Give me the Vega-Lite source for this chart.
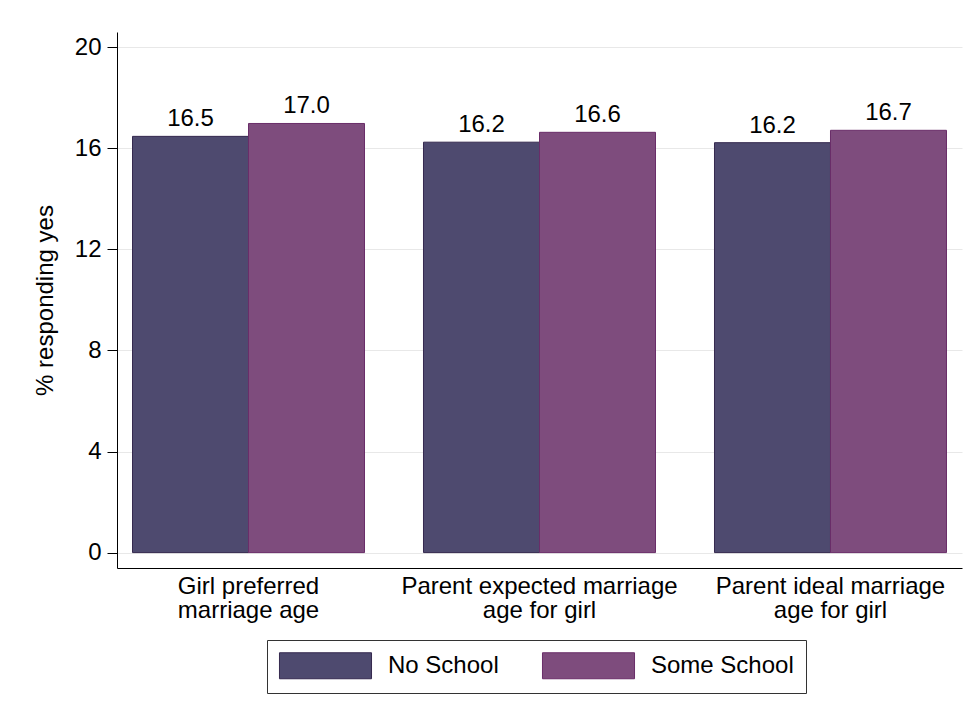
{
  "$schema": "https://vega.github.io/schema/vega-lite/v6.json",
  "width": 845,
  "height": 536,
  "autosize": {"type": "none"},
  "padding": {"left": 117, "top": 32, "right": 14, "bottom": 143},
  "background": "white",
  "config": {"view": {"stroke": null}, "font": "Liberation Sans"},
  "data": {
    "values": [
      {"measure": "Girl preferred|marriage age", "school": "No School", "value": 16.47},
      {"measure": "Girl preferred|marriage age", "school": "Some School", "value": 16.98},
      {"measure": "Parent expected marriage|age for girl", "school": "No School", "value": 16.24},
      {"measure": "Parent expected marriage|age for girl", "school": "Some School", "value": 16.63},
      {"measure": "Parent ideal marriage|age for girl", "school": "No School", "value": 16.22},
      {"measure": "Parent ideal marriage|age for girl", "school": "Some School", "value": 16.71}
    ]
  },
  "encoding": {
    "x": {
      "field": "measure",
      "type": "nominal",
      "sort": ["Girl preferred|marriage age", "Parent expected marriage|age for girl", "Parent ideal marriage|age for girl"],
      "scale": {"paddingInner": 0.2027, "paddingOuter": 0.0533},
      "axis": {
        "title": null,
        "ticks": false,
        "grid": false,
        "domain": true,
        "domainColor": "black",
        "domainWidth": 1,
        "labelAngle": 0,
        "labelFont": "Liberation Sans",
        "labelFontSize": 24,
        "labelColor": "black",
        "labelPadding": 6,
        "labelLineHeight": 24,
        "labelLimit": 0,
        "labelExpr": "split(datum.label, '|')"
      }
    },
    "xOffset": {
      "field": "school",
      "type": "nominal",
      "sort": ["No School", "Some School"],
      "scale": {"paddingInner": 0, "paddingOuter": 0}
    }
  },
  "layer": [
    {
      "mark": {"type": "bar", "strokeWidth": 1},
      "encoding": {
        "y": {
          "field": "value",
          "type": "quantitative",
          "scale": {"domain": [-0.61, 20.6], "nice": false, "zero": false},
          "axis": {
            "title": "% responding yes",
            "titleFont": "Liberation Sans",
            "titleFontSize": 24,
            "titleFontWeight": "normal",
            "titleColor": "black",
            "titlePadding": 17,
            "values": [0, 4, 8, 12, 16, 20],
            "tickSize": 10,
            "tickColor": "black",
            "tickWidth": 1,
            "domainColor": "black",
            "domainWidth": 1,
            "labelFont": "Liberation Sans",
            "labelFontSize": 24,
            "labelColor": "black",
            "labelPadding": 6,
            "grid": true,
            "gridColor": "#e8e8e8",
            "gridWidth": 1
          }
        },
        "y2": {"datum": 0},
        "color": {
          "field": "school",
          "type": "nominal",
          "sort": ["No School", "Some School"],
          "scale": {"domain": ["No School", "Some School"], "range": ["#4e4a6f", "#7e4c7d"]},
          "legend": {
            "title": null,
            "orient": "none",
            "legendX": 150,
            "legendY": 608,
            "direction": "horizontal",
            "padding": 12,
            "strokeColor": "#333333",
            "symbolType": "M-3.54,-1H3.54V1H-3.54Z",
            "symbolSize": 676,
            "symbolOffset": 33,
            "symbolStrokeWidth": 1,
            "labelOffset": 49,
            "columnPadding": 41,
            "labelFont": "Liberation Sans",
            "labelFontSize": 24,
            "labelColor": "black"
          }
        },
        "stroke": {
          "field": "school",
          "type": "nominal",
          "sort": ["No School", "Some School"],
          "scale": {"domain": ["No School", "Some School"], "range": ["#35294f", "#6a2d69"]}
        }
      }
    },
    {
      "mark": {"type": "text", "baseline": "alphabetic", "dy": -10, "fontSize": 24, "font": "Liberation Sans", "color": "black"},
      "encoding": {
        "y": {"field": "value", "type": "quantitative"},
        "text": {"field": "value", "type": "quantitative", "format": ".1f"}
      }
    }
  ]
}
